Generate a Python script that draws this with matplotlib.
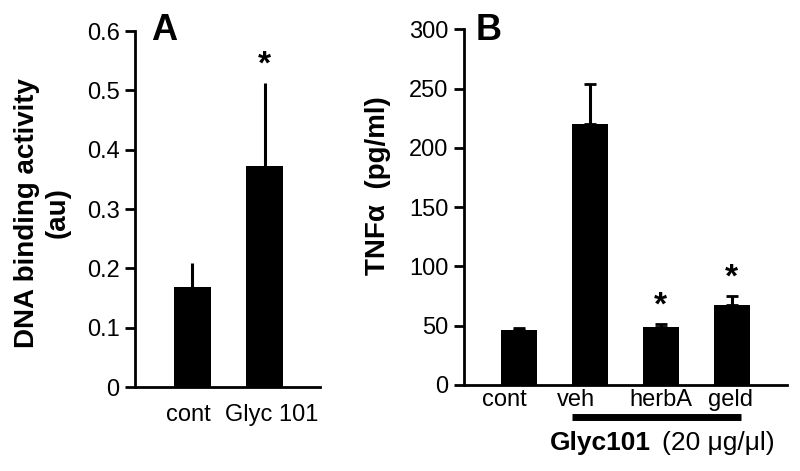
import matplotlib
matplotlib.use("Agg")
import matplotlib.pyplot as plt

plt.rcParams['font.family'] = ['Liberation Sans', 'DejaVu Sans']

# panel A
a_labels = ['cont', 'Glyc 101']
a_vals = [0.168, 0.372]
a_err = [0.041, 0.140]

# panel B
b_labels = ['cont', 'veh', 'herbA', 'geld']
b_vals = [46.3, 219.7, 49.1, 67.4]
b_err = [2.0, 33.7, 2.6, 7.3]
b_sig = [False, False, True, True]

fig = plt.figure(figsize=(8, 4.71), dpi=100)

def style(ax):
    for s in ['top', 'right']:
        ax.spines[s].set_visible(False)
    ax.spines['left'].set_linewidth(2)
    ax.spines['bottom'].set_linewidth(2)
    ax.tick_params(axis='y', length=7, width=2, labelsize=17, pad=4)
    ax.tick_params(axis='x', length=0, labelsize=17, pad=3)

# ---- A
ax1 = fig.add_axes([0.16875, 0.1783, 0.23125, 0.7557])
x = range(len(a_vals))
ax1.bar(x, a_vals, width=0.51, color='black')
ax1.errorbar(x, a_vals, yerr=[[0, 0], a_err], fmt='none', ecolor='black',
             elinewidth=2.2, capsize=0)
ax1.set_xlim(-0.79, 1.76)
ax1.set_ylim(0, 0.6)
ax1.set_yticks([0, 0.1, 0.2, 0.3, 0.4, 0.5, 0.6])
ax1.set_yticklabels(['0', '0.1', '0.2', '0.3', '0.4', '0.5', '0.6'])
ax1.set_xticks([-0.06, 1.1])
ax1.set_xticklabels(a_labels)
style(ax1)
ax1.tick_params(axis='x', pad=12)
ax1.text(1, a_vals[1] + a_err[1] + 0.005, '*', ha='center', va='bottom',
         fontsize=24, fontweight='bold')
fig.text(164 / 800, 0.935, 'A', fontsize=26, fontweight='bold',
         ha='center', va='center')
fig.text(0.053, 1 - 213 / 471, 'DNA binding activity\n(au)', rotation=90,
         fontsize=20, fontweight='bold', ha='center', va='center',
         multialignment='center', linespacing=1.25)

# ---- B
ax2 = fig.add_axes([0.58, 0.1826, 0.404, 0.7554])
x = range(len(b_vals))
ax2.bar(x, b_vals, width=0.51, color='black')
ax2.errorbar(x, b_vals, yerr=[[0] * 4, b_err], fmt='none', ecolor='black',
             elinewidth=2.2, capsize=4, capthick=2)
ax2.set_xlim(-0.77, 3.78)
ax2.set_ylim(0, 300)
ax2.set_yticks([0, 50, 100, 150, 200, 250, 300])
ax2.set_xticks([-0.2, 0.81, 2.0, 2.98])
ax2.set_xticklabels(b_labels)
style(ax2)
for i in x:
    if b_sig[i]:
        ax2.text(i, b_vals[i] + b_err[i] + 2, '*', ha='center', va='bottom',
                 fontsize=24, fontweight='bold')
fig.text(489 / 800, 0.935, 'B', fontsize=26, fontweight='bold',
         ha='center', va='center')
fig.text(378 / 800, 1 - 186 / 471, 'TNF\u03b1  (pg/ml)', rotation=90,
         fontsize=20, fontweight='bold', ha='center', va='center')

# treatment bar under veh..geld
fig.add_artist(plt.Line2D([572 / 800, 741 / 800], [1 - 417 / 471, 1 - 417 / 471],
                          color='black', linewidth=5, solid_capstyle='butt'))
fig.text(550 / 800, 1 - 443 / 471, 'Glyc101', fontsize=19, fontweight='bold',
         ha='left', va='center')
fig.text(662 / 800, 1 - 443 / 471, '(20 \u03bcg/\u03bcl)', fontsize=19,
         ha='left', va='center')

fig.savefig('out.png', dpi=100)
